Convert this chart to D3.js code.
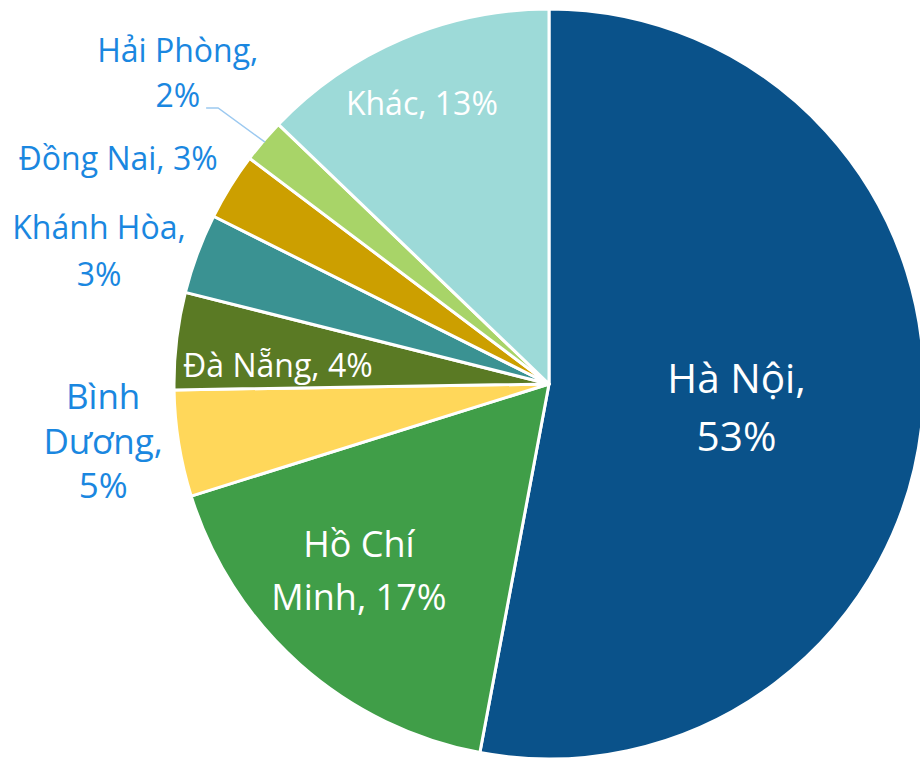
<!DOCTYPE html>
<html>
<head>
<meta charset="utf-8">
<script src="https://cdn.jsdelivr.net/npm/d3@7"></script>
<style>
    body{margin:0;background:#fff;}
    svg text{font-family:"Open Sans", "Noto Sans", sans-serif;}
</style>
</head>
<body>
<svg id="chart" width="920" height="761"></svg>
<script>
// -- data (share of total, %)
var regions = ["Hà Nội", "Hồ Chí Minh", "Bình Dương", "Đà Nẵng", "Khánh Hòa", "Đồng Nai", "Hải Phòng", "Khác"];
var shares  = [52.95, 17.22, 4.58, 4.18, 3.45, 2.90, 1.89, 12.83];
var colors  = ["#0a528a", "#409e48", "#ffd75a", "#5a7a24", "#3a9292", "#cc9f00", "#a8d468", "#9ddad8"];

// label layout: offset from pie centre in units of the radius, font size, line height,
// words per line, inside (white) or outside (blue)
var labelLayout = {
    "Hà Nội":      {dx: 0.500, dy: 0.024, fs: 40.5, lh: 58, lines: [2, 1], inside: true},
    "Hồ Chí Minh": {dx:-0.507, dy: 0.461, fs: 36,   lh: 53, lines: [2, 2], inside: true},
    "Bình Dương":  {dx:-1.189, dy: 0.067, fs: 35,   lh: 44.5, lines: [1, 1, 1], inside: false},
    "Đà Nẵng":     {dx:-0.723, dy:-0.019, fs: 32,   lh: 0,  lines: [3], inside: true},
    "Khánh Hòa":   {dx:-1.200, dy:-0.387, fs: 32,   lh: 47, lines: [2, 1], inside: false},
    "Đồng Nai":    {dx:-1.149, dy:-0.571, fs: 32,   lh: 0,  lines: [3], inside: false},
    "Hải Phòng":   {dx:-0.990, dy:-0.859, fs: 32,   lh: 45, lines: [2, 1], inside: false, leader: true},
    "Khác":        {dx:-0.339, dy:-0.717, fs: 32,   lh: 0,  lines: [2], inside: true}
};

var width = 920, height = 761;
var cx = 549, cy = 384, radius = 375;
var outsideBlue = "#1a87e0";

var data = regions.map(function(r, i){ return {name: r, value: shares[i], color: colors[i]}; });

var pie = d3.pie().sort(null).value(function(d){ return d.value; });
var arc = d3.arc().innerRadius(0).outerRadius(radius);

var svg = d3.select("#chart");
var g = svg.append("g").attr("transform", "translate(" + cx + "," + cy + ")");

// -- slices
g.selectAll(".slice").data(pie(data)).enter().append("path")
    .attr("class", "slice")
    .attr("d", arc)
    .style("fill", function(d){ return d.data.color; })
    .style("stroke", "#fff")
    .style("stroke-width", 3)
    .style("stroke-linejoin", "round");

// -- labels
var labels = g.selectAll(".label").data(pie(data)).enter().append("g").attr("class", "label");

labels.each(function(d){
    var lay = labelLayout[d.data.name];
    var words = (d.data.name + ", " + Math.round(d.data.value) + "%").split(" ");
    var lines = [], k = 0;
    lay.lines.forEach(function(n){ lines.push(words.slice(k, k + n).join(" ")); k += n; });

    var x = lay.dx * radius, y = lay.dy * radius;
    var t = d3.select(this).append("text")
        .attr("text-anchor", "middle")
        .style("font-size", lay.fs + "px")
        .style("fill", lay.inside ? "#fff" : outsideBlue);

    t.selectAll("tspan").data(lines).enter().append("tspan")
        .attr("x", x)
        .attr("y", function(l, i){ return y + i * lay.lh; })
        .text(function(l){ return l; });

    // leader line from the last line of text to the slice edge
    if (lay.leader){
        var last = t.selectAll("tspan").nodes().pop();
        var bb = last.getBBox();
        var ly = y + (lines.length - 1) * lay.lh + 1;
        var a = (d.startAngle + d.endAngle) / 2;
        var ex = Math.sin(a) * (radius - 2), ey = -Math.cos(a) * (radius - 2);
        d3.select(this).insert("path", "text")
            .attr("d", "M" + (bb.x + bb.width + 6) + "," + ly + "H" + (bb.x + bb.width + 18) + "L" + ex + "," + ey)
            .style("fill", "none")
            .style("stroke", "#9cc9f0")
            .style("stroke-width", 1.5);
    }
});
</script>
</body>
</html>
